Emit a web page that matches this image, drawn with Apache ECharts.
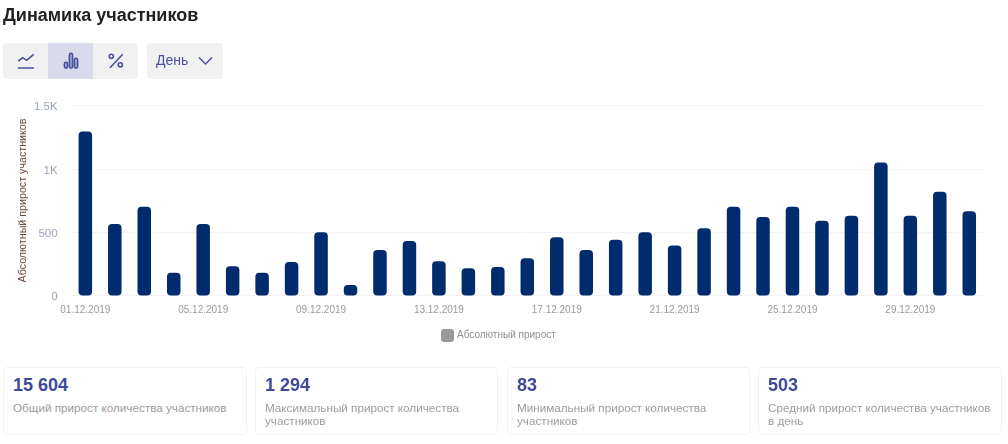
<!DOCTYPE html>
<html lang="ru">
<head>
<meta charset="utf-8">
<style>
html,body{margin:0;padding:0;background:#fff;width:1008px;height:444px;overflow:hidden;font-family:"Liberation Sans",Arial,sans-serif}
#chart{position:absolute;left:0;top:0;width:1008px;height:444px}
h1{position:absolute;left:3px;top:4px;margin:0;font-size:18px;line-height:22px;font-weight:700;color:#212121}
.group{position:absolute;top:43px;height:36px;background:#f1f1f2;border-radius:4px;overflow:hidden}
.btn{position:absolute;top:0;width:45px;height:36px}
.btn.on{background:#d8daec}
.btn svg{position:absolute;left:0;top:0}
.day{position:absolute;left:9px;top:9px;font-size:14px;line-height:16px;color:#4a4f9f}
.card{position:absolute;top:367px;height:66px;border:1px solid #f2f2f2;border-radius:4px;background:#fff}
.num{position:absolute;left:9px;top:7px;font-size:18px;line-height:20px;font-weight:700;color:#3d4a9c}
.lab{position:absolute;left:9px;top:34px;right:4px;font-size:11.7px;line-height:12.5px;color:#9c9c9c}
</style>
</head>
<body>
<div id="chart"></div>
<h1>Динамика участников</h1>
<div class="group" style="left:3px;width:135px">
  <div class="btn"><svg width="45" height="36" fill="none" stroke="#4a4f9f" stroke-width="1.6"><path d="M15 25h16"/><path d="M15.3 18l4.4-3.3 4 2.6 7-6"/></svg></div>
  <div class="btn on" style="left:45px"><svg width="45" height="36" fill="#8f94cc" stroke="#4a4f9f" stroke-width="1.4"><rect x="16.3" y="19.3" width="3.4" height="6" rx="1.7"/><rect x="21.3" y="10.3" width="3.4" height="15" rx="1.7"/><rect x="26.3" y="15.3" width="3.4" height="10" rx="1.7"/></svg></div>
  <div class="btn" style="left:90px"><svg width="45" height="36" fill="none" stroke="#4a4f9f" stroke-width="1.6"><path d="M17 24.7l12.7-13.4"/><circle cx="18.3" cy="13.3" r="2.1"/><circle cx="27.3" cy="21.8" r="2.1"/></svg></div>
</div>
<div class="group" style="left:147px;width:76px">
  <div class="day">День</div>
  <svg width="76" height="36" fill="none" stroke="#4a4f9f" stroke-width="1.5" style="position:absolute;left:0;top:0"><path d="M52 14.5l6.5 6.5 6.5-6.5"/></svg>
</div>
<div class="card" style="left:3px;width:242px"><div class="num">15 604</div><div class="lab">Общий прирост количества участников</div></div>
<div class="card" style="left:255px;width:241px"><div class="num">1 294</div><div class="lab">Максимальный прирост количества участников</div></div>
<div class="card" style="left:507px;width:241px"><div class="num">83</div><div class="lab">Минимальный прирост количества участников</div></div>
<div class="card" style="left:758px;width:242px"><div class="num">503</div><div class="lab">Средний прирост количества участников в день</div></div>

<script src="https://cdn.jsdelivr.net/npm/echarts@6/dist/echarts.min.js"></script>
<script>
const categories = ["01.12.2019","02.12.2019","03.12.2019","04.12.2019","05.12.2019","06.12.2019","07.12.2019","08.12.2019","09.12.2019","10.12.2019","11.12.2019","12.12.2019","13.12.2019","14.12.2019","15.12.2019","16.12.2019","17.12.2019","18.12.2019","19.12.2019","20.12.2019","21.12.2019","22.12.2019","23.12.2019","24.12.2019","25.12.2019","26.12.2019","27.12.2019","28.12.2019","29.12.2019","30.12.2019","31.12.2019"];
const growth = [1294,565,700,180,565,230,180,265,500,83,360,430,270,215,225,295,460,360,440,500,395,530,700,620,700,590,630,1050,630,820,665];
const seriesName = "Абсолютный прирост";
const yTitle = "Абсолютный прирост участников";

const chart = echarts.init(document.getElementById('chart'), null, {renderer:'canvas'});
chart.setOption({
  animation:false,
  textStyle:{fontFamily:'"Liberation Sans",Arial,sans-serif'},
  grid:{left:70.6,top:105.5,width:913.4,height:190,containLabel:false},
  legend:{
    show:true,
    data:[{name:seriesName,itemStyle:{color:'#999999',borderRadius:2}}],
    top:329,left:441,padding:0,
    itemWidth:13,itemHeight:13,itemGap:3,
    icon:'roundRect',
    textStyle:{fontSize:10,color:'#8f8f8f',padding:[0,0,0,-2]}
  },
  xAxis:{
    type:'category',data:categories,
    axisLine:{show:false},axisTick:{show:false},splitLine:{show:false},
    axisLabel:{interval:3,fontSize:10,color:'#9a9a9a',margin:10,hideOverlap:false}
  },
  yAxis:{
    type:'value',min:0,max:1500,interval:500,
    name:yTitle,nameLocation:'middle',nameGap:42,nameRotate:90,nameMoveOverlap:false,
    nameTextStyle:{fontSize:10.7,color:'#6b4a3a'},
    axisLine:{show:false},axisTick:{show:false},
    splitLine:{lineStyle:{color:'#f3f3f5',width:1}},
    axisLabel:{fontSize:11.5,color:'#9aa3b8',margin:13,verticalAlign:'top',lineHeight:3,
      formatter:v=>v>=1000?(v/1000)+'K':String(v)}
  },
  series:[{
    name:seriesName,type:'bar',data:growth,barWidth:13.5,
    itemStyle:{color:'#002b6c',borderRadius:[4,4,4,4]}
  }]
});
</script>
</body>
</html>
